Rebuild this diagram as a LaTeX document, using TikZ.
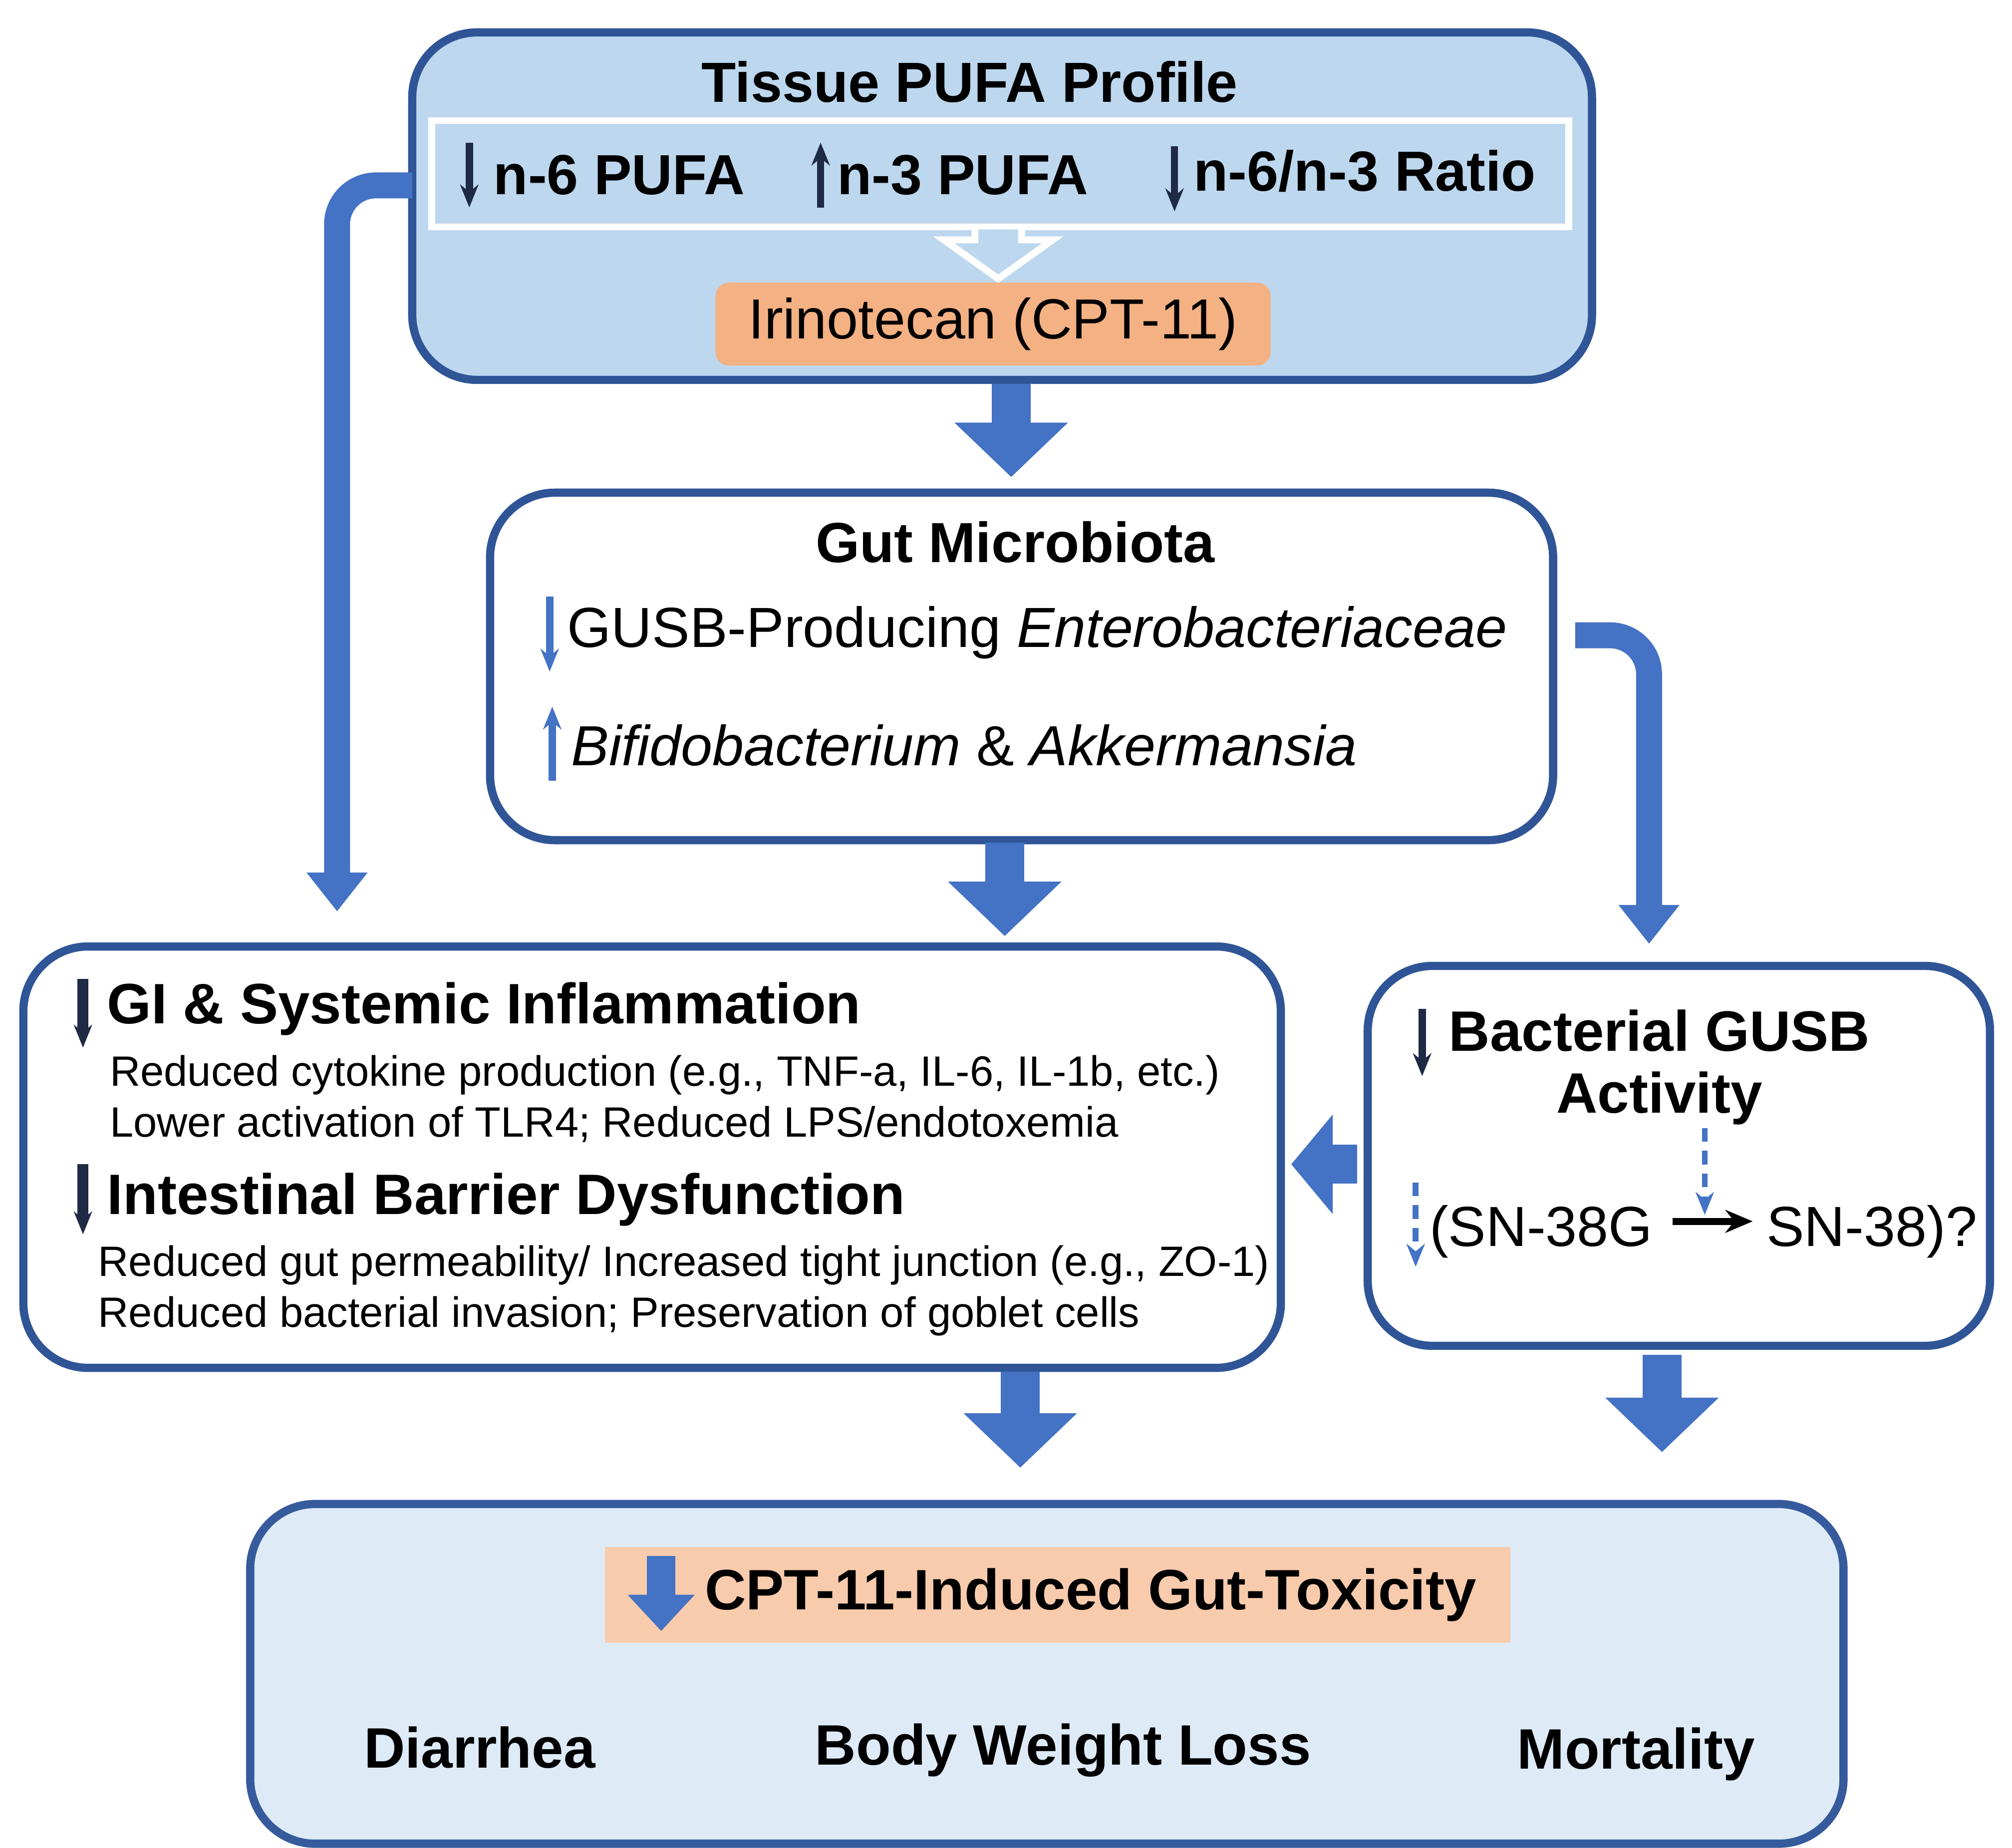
\documentclass[tikz,border=0pt]{standalone}
\usepackage{fontspec}
\setmainfont{Liberation Sans}
\usetikzlibrary{arrows.meta}
\definecolor{dblue}{HTML}{2F5597}
\definecolor{lblue}{HTML}{BDD7EE}
\definecolor{vlblue}{HTML}{DEEBF7}
\definecolor{ablue}{HTML}{4472C4}
\definecolor{orng}{HTML}{F4B183}
\definecolor{lorng}{HTML}{F8CBAD}
\definecolor{navy}{HTML}{1F2A44}
\begin{document}
\begin{tikzpicture}[x=0.01cm,y=-0.01cm,
  box/.style={draw=dblue,line width=1.8pt,rounded corners=0.5cm},
  big/.style={ablue,line width=0.3cm,-{Triangle[width=0.85cm,length=0.42cm]}},
  elbow/.style={ablue,line width=0.2cm,rounded corners=0.3cm,-{Triangle[width=0.45cm,length=0.3cm]}},
  sm/.style={navy,line width=1.6pt,-{Stealth[length=5pt,width=4pt]}},
  smb/.style={ablue,line width=1.6pt,-{Stealth[length=5pt,width=4pt]}},
  dsh/.style={ablue,line width=1.3pt,dashed,dash pattern=on 3pt off 2pt,-{Stealth[length=5pt,width=4pt]}},
  ttl/.style={font=\bfseries\fontsize{12.4}{15}\selectfont},
  hd/.style={font=\bfseries\fontsize{12.5}{15}\selectfont},
  mid/.style={font=\fontsize{12.4}{15}\selectfont},
  sub/.style={font=\fontsize{9.3}{12}\selectfont,anchor=west},
  every node/.style={inner sep=0pt}]
\useasboundingbox (0,0) rectangle (1552,1425);
% top box
\draw[box,fill=lblue] (318,25) rectangle (1228,293);
\node[ttl] (t1) at (748,63) {Tissue PUFA Profile};
\draw[white,line width=1.5pt] (333,93) rectangle (1210,175);
\node[ttl,anchor=west] (p1) at (380,135) {n-6 PUFA};
\node[ttl,anchor=west] (p2) at (645,135) {n-3 PUFA};
\node[ttl,anchor=west] (p3) at (920,132) {n-6/n-3 Ratio};
\draw[sm] (362,110) -- (362,160);
\draw[sm] (633,160) -- (633,110);
\draw[sm] (906,113) -- (906,163);
\draw[white,line width=1.5pt,fill=lblue] (752,177) -- (752,185) -- (728,185) -- (770,215) -- (812,185) -- (788,185) -- (788,177);
\node[fill=orng,rounded corners=3pt,minimum width=4.28cm,minimum height=0.64cm,mid] (iri) at (766,250) {Irinotecan (CPT-11)};
\draw[big] (780,296) -- (780,368);
% gut microbiota
\draw[box,fill=white] (378,380) rectangle (1198,648);
\node[ttl] (gm) at (783,418) {Gut Microbiota};
\node[mid,anchor=west] (g1) at (437,488) {GUSB-Producing \textit{Enterobacteriaceae}};
\node[mid,anchor=west] (g2) at (440,575) {\textit{Bifidobacterium} \& \textit{Akkermansia}};
\draw[smb] (424,460) -- (424,518);
\draw[smb] (426,602) -- (426,545);
\draw[big] (775,650) -- (775,722);
% elbows
\draw[elbow] (318,143) -- (260,143) -- (260,703);
\draw[elbow] (1215,490) -- (1272,490) -- (1272,728);
% left box
\draw[box,fill=white] (18,730) rectangle (988,1055);
\node[hd,anchor=west] (gi) at (82,778) {GI \& Systemic Inflammation};
\draw[sm,line width=2.4pt] (64,755) -- (64,808);
\node[sub] (s1) at (84,829) {Reduced cytokine production (e.g., TNF-a, IL-6, IL-1b, etc.)};
\node[sub] (s2) at (84,867) {Lower activation of TLR4; Reduced LPS/endotoxemia};
\node[hd,anchor=west] (ib) at (82,925) {Intestinal Barrier Dysfunction};
\draw[sm,line width=2.4pt] (64,898) -- (64,952);
\node[sub] (s3) at (75,976) {Reduced gut permeability/ Increased tight junction (e.g., ZO-1)};
\node[sub] (s4) at (75,1015) {Reduced bacterial invasion; Preservation of goblet cells};
% right box
\draw[box,fill=white] (1055,745) rectangle (1535,1038);
\node[hd] (bg1) at (1280,795) {Bacterial GUSB};
\node[hd] (bg2) at (1280,847) {Activity};
\draw[sm] (1097,778) -- (1097,830);
\draw[dsh] (1315,870) -- (1315,937);
\node[mid,anchor=west] (sn1) at (1102,950) {(SN-38G};
\node[mid,anchor=west] (sn2) at (1362,950) {SN-38)?};
\draw[black,line width=1.5pt,-{Stealth[length=6pt,width=5pt]}] (1290,942) -- (1352,942);
\draw[dsh] (1092,912) -- (1092,977);
\draw[ablue,line width=0.3cm,-{Triangle[width=0.75cm,length=0.32cm]}] (1047,898) -- (996,898);
\draw[big] (787,1058) -- (787,1132);
\draw[big] (1282,1045) -- (1282,1120);
% bottom box
\draw[draw=ablue!80!black,line width=1.8pt,rounded corners=0.5cm,fill=vlblue] (193,1160) rectangle (1422,1422);
\node[fill=lorng,minimum width=6.98cm,minimum height=0.74cm] (tox) at (816,1230) {};
\node[hd,anchor=west] (toxt) at (543,1230) {CPT-11-Induced Gut-Toxicity};
\draw[big,line width=0.22cm,-{Triangle[width=0.5cm,length=0.28cm]}] (510,1200) -- (510,1258);
\node[hd] (d) at (370,1348) {Diarrhea};
\node[hd] (b) at (820,1350) {Body Weight Loss};
\node[hd] (m) at (1262,1353) {Mortality};
\end{tikzpicture}
\end{document}
